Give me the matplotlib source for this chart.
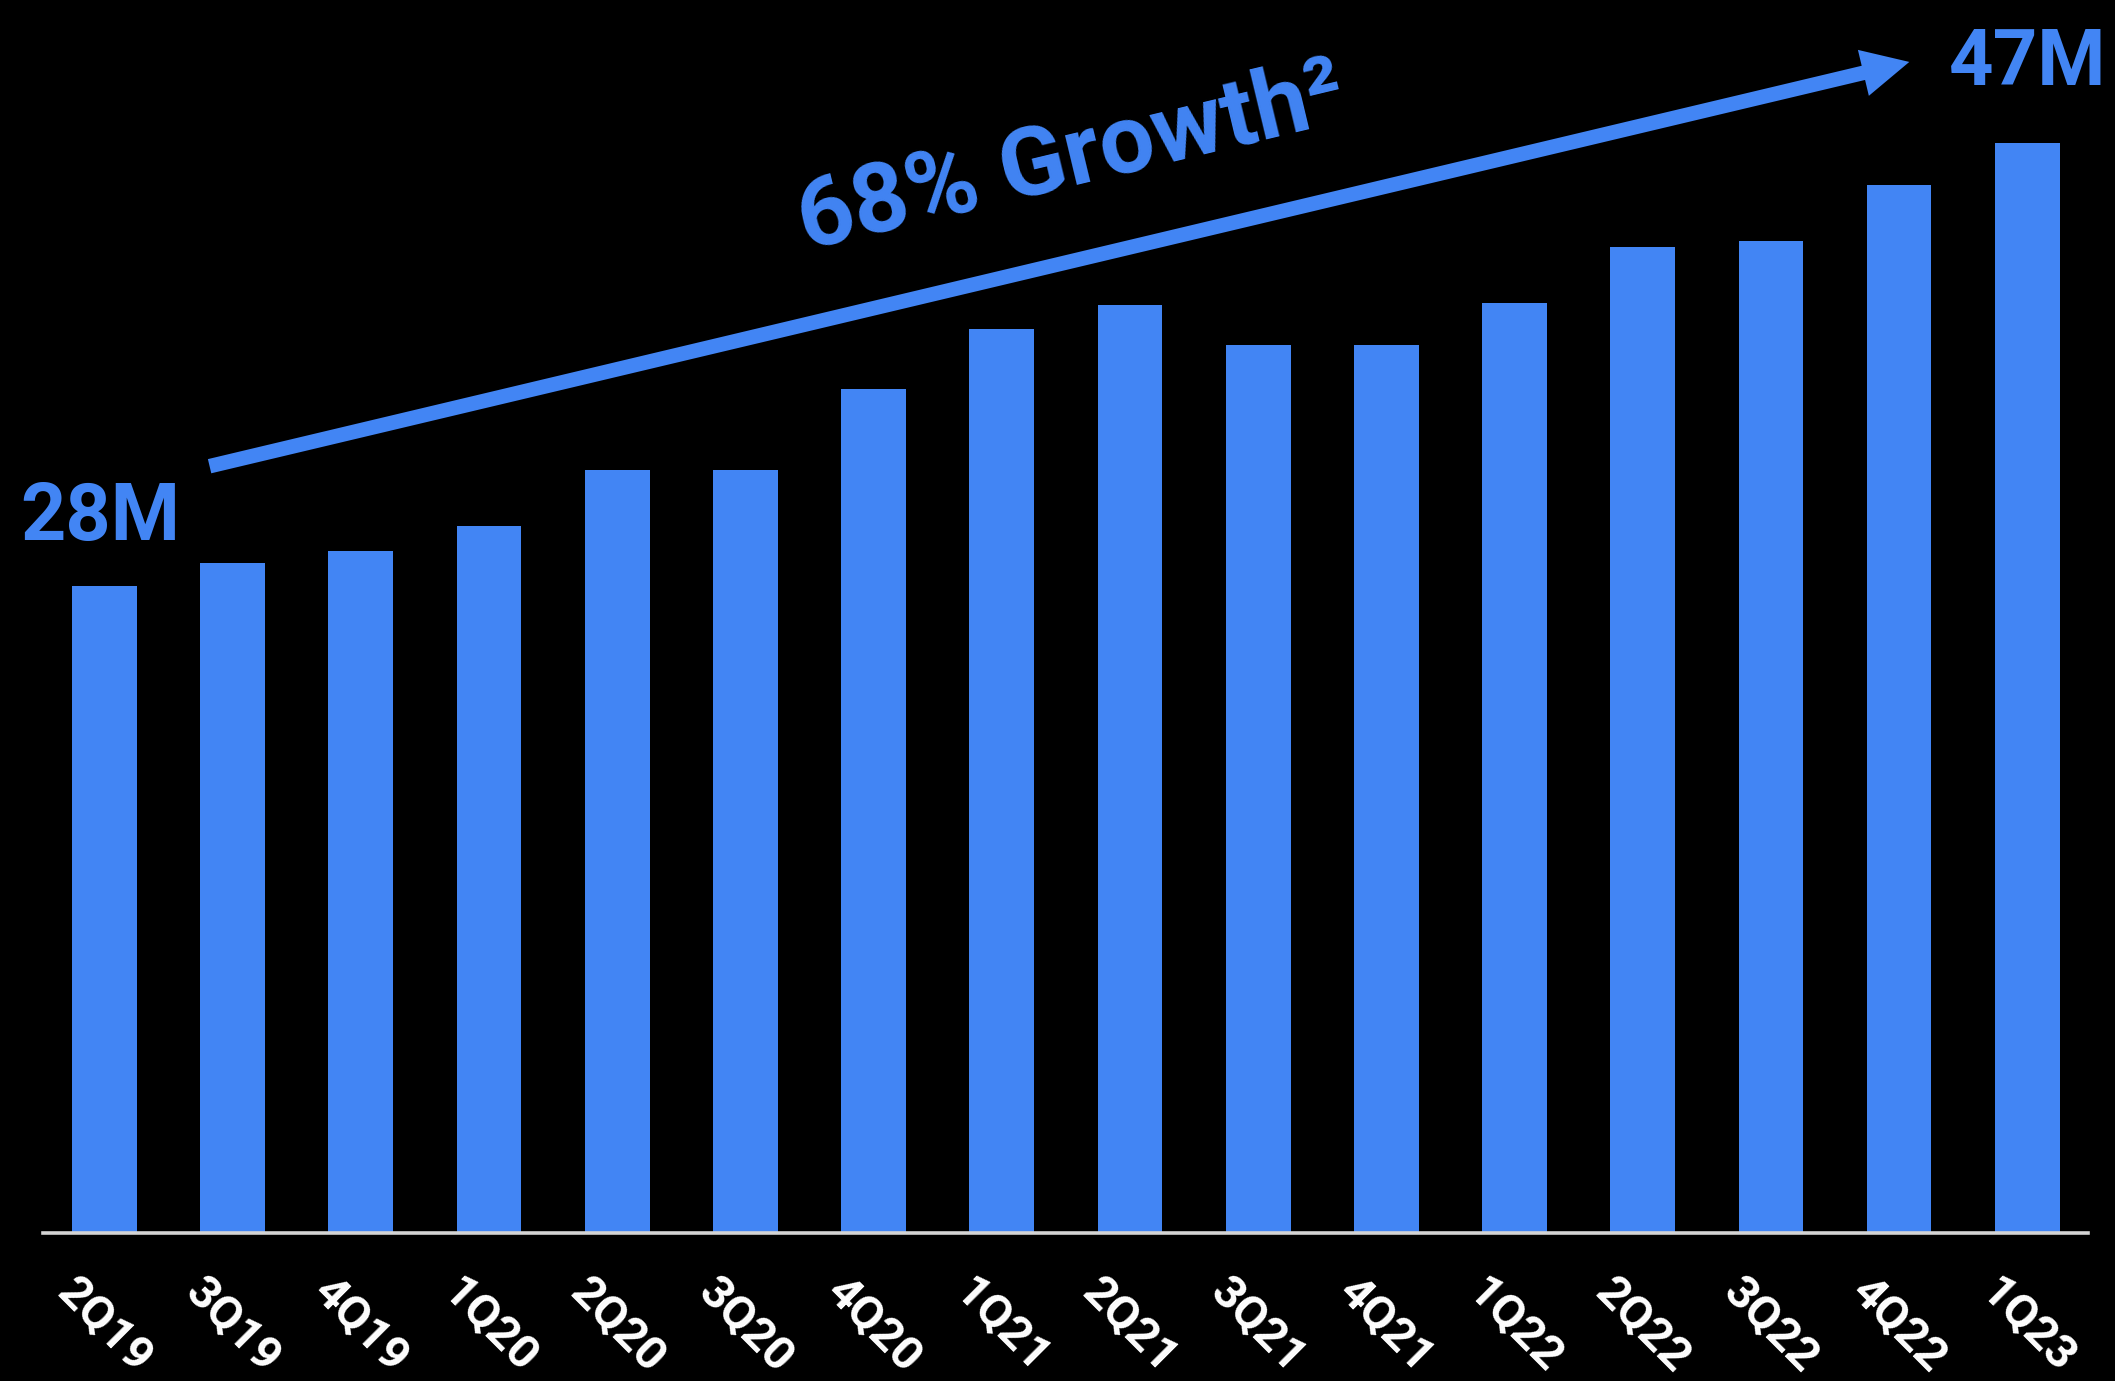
import numpy as np
import matplotlib
matplotlib.use("Agg")
import matplotlib.pyplot as plt

plt.rcParams['font.family'] = ['Roboto', 'DejaVu Sans']

quarters = ["2Q19", "3Q19", "4Q19", "1Q20", "2Q20", "3Q20", "4Q20", "1Q21",
            "2Q21", "3Q21", "4Q21", "1Q22", "2Q22", "3Q22", "4Q22", "1Q23"]
# subscribers, millions
subs = [27.9, 28.9, 29.4, 30.5, 32.9, 32.9, 36.4, 39.0,
        40.0, 38.3, 38.3, 40.1, 42.5, 42.8, 45.2, 47.0]
start_label = "28M"
end_label = "47M"
growth_label = "68% Growth²"

blue = "#4285F4"

fig = plt.figure(figsize=(21.15, 13.81), dpi=100, facecolor="black")
ax = fig.add_axes([0.0203, 0.107, 0.9667, 0.893])
ax.set_facecolor("black")

x = np.arange(len(quarters))
ax.bar(x, subs, width=0.505, color=blue)

ax.set_xlim(-0.48, 15.47)
ax.set_ylim(0, 53.17)

for s in ["top", "left", "right"]:
    ax.spines[s].set_visible(False)
ax.spines["bottom"].set_color("#d4d4d4")
ax.spines["bottom"].set_linewidth(2.6)

ax.set_yticks([])
ax.set_xticks(x)
ax.set_xticklabels(quarters, rotation=-45, ha="center", va="top",
                   color="white", fontsize=34, fontweight="bold")
ax.tick_params(axis="x", length=0, pad=26)

# growth arrow from first quarter to latest (filled shape, butt tail)
ax.annotate("", xy=(14.08, 50.5), xytext=(0.82, 33.07),
            arrowprops=dict(arrowstyle="simple,head_length=34,head_width=34,tail_width=10.5",
                            color=blue, lw=0, shrinkA=0, shrinkB=0,
                            mutation_scale=1),
            annotation_clip=False)

ax.text(-0.03, 29.9, start_label, color=blue, fontsize=57, fontweight="bold",
        ha="center", va="baseline")
ax.text(15.0, 49.5, end_label, color=blue, fontsize=56, fontweight="bold",
        ha="center", va="baseline", clip_on=False)
ax.text(5.47, 42.4, growth_label, color=blue, fontsize=70, fontweight="bold",
        ha="left", va="baseline", rotation=13.5, rotation_mode="anchor")

fig.savefig("out.png", dpi=100, facecolor="black")
